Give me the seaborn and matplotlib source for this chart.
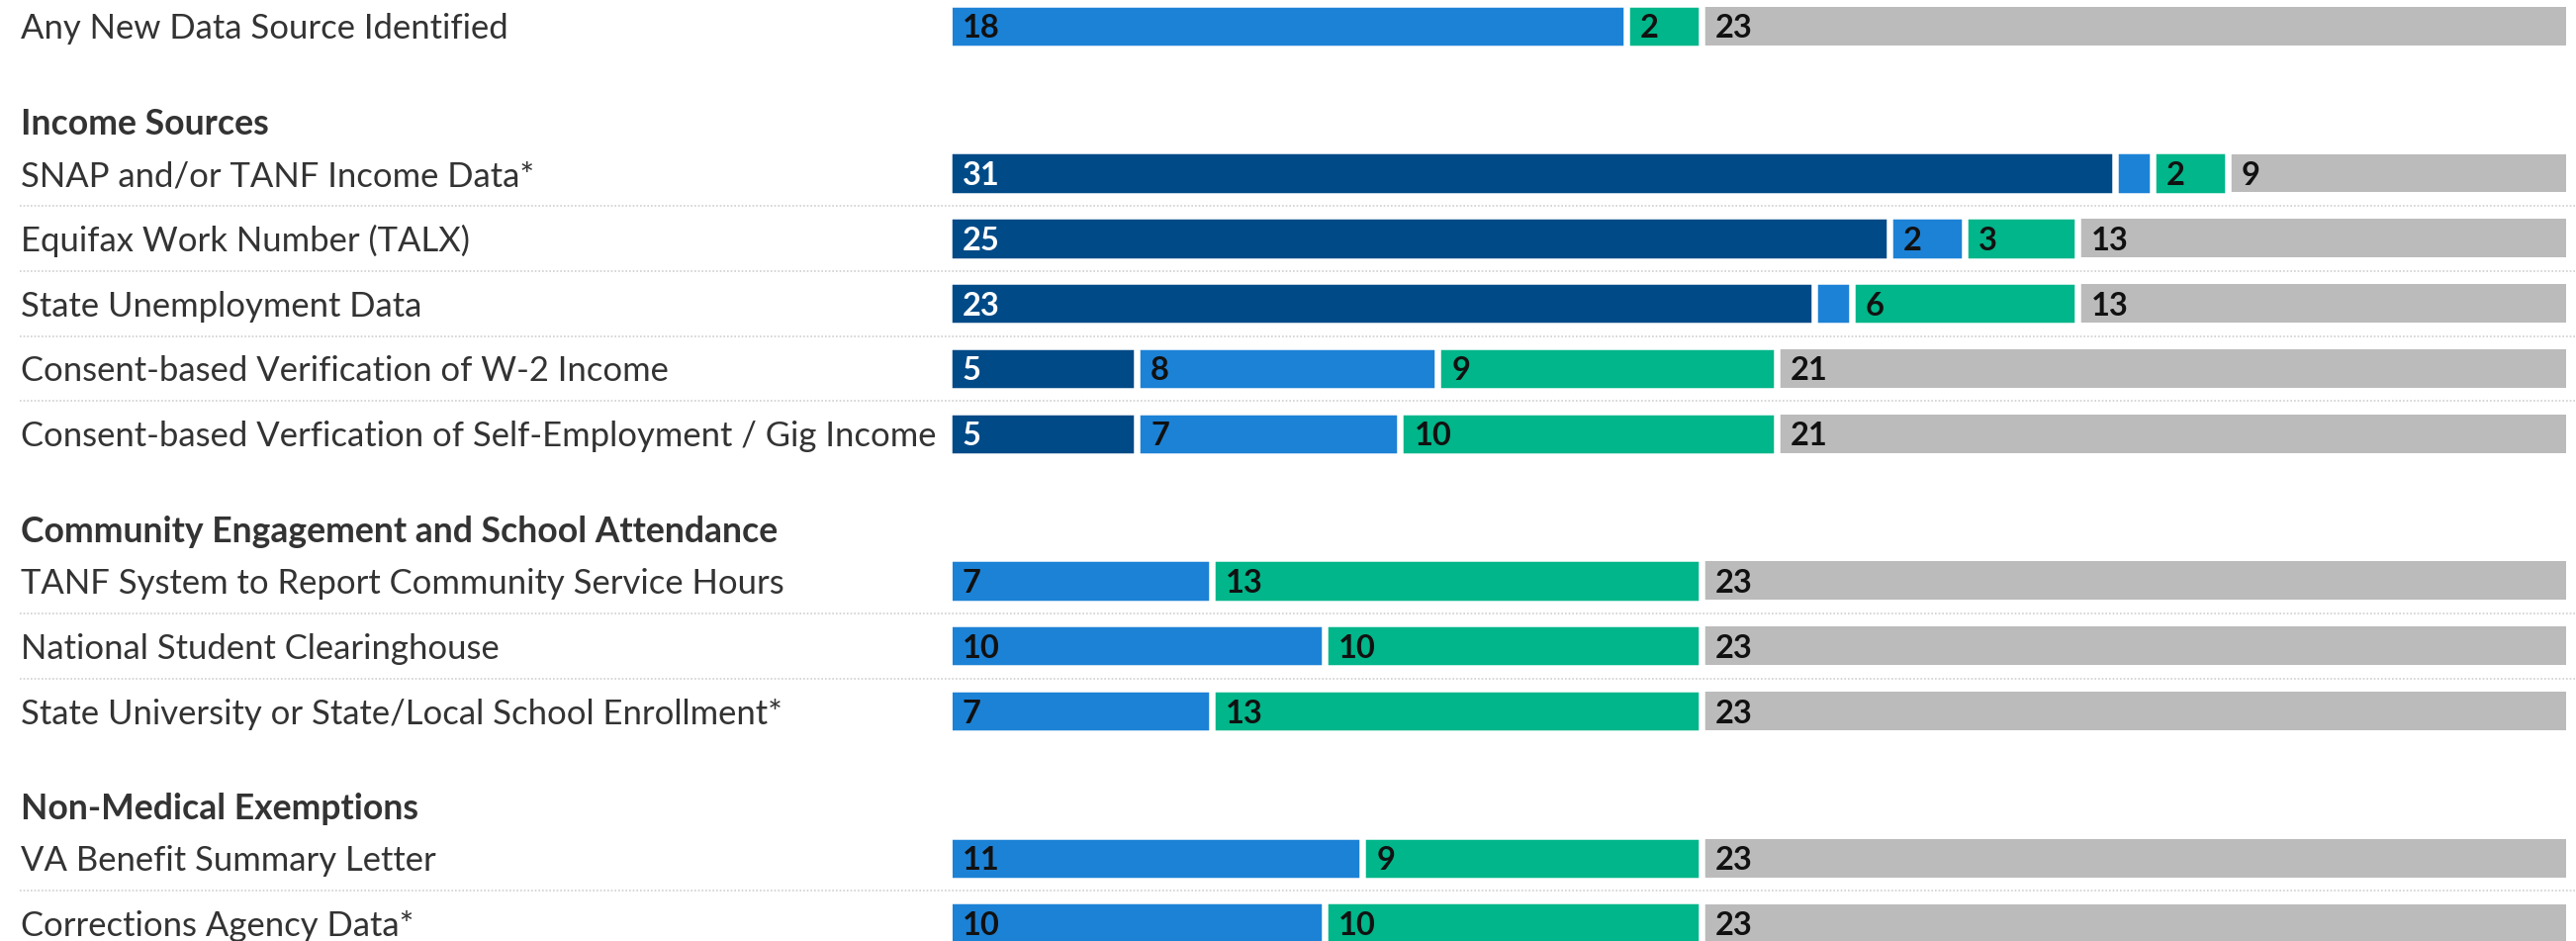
import numpy as np
import pandas as pd
import matplotlib
matplotlib.use("Agg")
import matplotlib.pyplot as plt
import matplotlib.transforms as mtransforms
import seaborn as sns

# Row labels, grouped (first group has no header)
group_titles = [None, "Income Sources", "Community Engagement and School Attendance",
                "Non-Medical Exemptions"]
group_rows = [
    ["Any New Data Source Identified"],
    ["SNAP and/or TANF Income Data*",
     "Equifax Work Number (TALX)",
     "State Unemployment Data",
     "Consent-based Verification of W-2 Income",
     "Consent-based Verfication of Self-Employment / Gig Income"],
    ["TANF System to Report Community Service Hours",
     "National Student Clearinghouse",
     "State University or State/Local School Enrollment*"],
    ["VA Benefit Summary Letter",
     "Corrections Agency Data*"],
]

# Segment counts per row, left to right in each bar
seg_dark = [0, 31, 25, 23, 5, 5, 0, 0, 0, 0, 0]
seg_blue = [18, 1, 2, 1, 8, 7, 7, 10, 7, 11, 10]
seg_green = [2, 2, 3, 6, 9, 10, 13, 10, 13, 9, 10]
seg_gray = [23, 9, 13, 13, 21, 21, 23, 23, 23, 23, 23]

series = ["dark", "blue", "green", "gray"]
colors = {"dark": "#004A87", "blue": "#1C82D6", "green": "#00B68A", "gray": "#BBBBBB"}
text_colors = {"dark": "white", "blue": "#111111", "green": "#111111", "gray": "#111111"}

# layout (in row units)
EXTRA_GAP = 1.26
HEADER_OFFSET = 0.8
ROW_PX = 65.8
BAR_H = 0.69
GAP_PX = 6.5

ypos, labels, header_y, sep_y = [], [], [], []
y_next = 0.0
for gi, rows in enumerate(group_rows):
    if gi > 0:
        y_next += EXTRA_GAP
        header_y.append(y_next - HEADER_OFFSET)
    for ri, lab in enumerate(rows):
        ypos.append(y_next)
        labels.append(lab)
        if ri < len(rows) - 1:
            sep_y.append(y_next + 0.5)
        y_next += 1

df = pd.DataFrame({"y": ypos, "label": labels, "dark": seg_dark, "blue": seg_blue,
                   "green": seg_green, "gray": seg_gray})
cum = df[series].cumsum(axis=1)
start = cum - df[series]
for s in series:
    df["cum_" + s] = cum[s]
total = int(cum["gray"].max())

sns.set_theme(style="white")
plt.rcParams["font.family"] = ["Lato", "DejaVu Sans"]

W, H = 2604, 951
fig = plt.figure(figsize=(W / 100, H / 100), dpi=100)
x0_px, unit_px = 959.0, 38.03
ax = fig.add_axes([x0_px / W, 0, total * unit_px / W, 1])

# stacked bars by layering cumulative totals, outermost first;
# the outer (gray) bar has no white edge so it reaches the full width
for s in reversed(series):
    if s == "gray":
        sns.barplot(data=df, x="cum_" + s, y="y", orient="y", native_scale=True,
                    width=BAR_H - GAP_PX / ROW_PX, color=colors[s], saturation=1,
                    errorbar=None, linewidth=0, ax=ax)
    else:
        sns.barplot(data=df, x="cum_" + s, y="y", orient="y", native_scale=True,
                    width=BAR_H, color=colors[s], saturation=1, errorbar=None,
                    edgecolor="white", linewidth=GAP_PX * 0.72, ax=ax)

ax.set_xlim(0, total)
ax.set_ylim((H - 26.3) / ROW_PX, -26.3 / ROW_PX)
ax.axis("off")

# value labels
lab_tr = mtransforms.offset_copy(ax.transData, fig=fig, x=14, y=0, units="dots")
for i, row in df.iterrows():
    for s in series:
        v = row[s]
        if v >= 2:
            ax.text(start.loc[i, s], row["y"], str(int(v)), transform=lab_tr,
                    ha="left", va="center_baseline", fontsize=23.5, fontweight="bold",
                    color=text_colors[s])

# row labels, headers and separators
txt_tr = mtransforms.blended_transform_factory(fig.transFigure, ax.transData)
for y, lab in zip(ypos, labels):
    ax.text(21 / W, y, lab, transform=txt_tr, ha="left", va="center_baseline",
            fontsize=24.9, color="#333333", clip_on=False)
for y, title in zip(header_y, group_titles[1:]):
    ax.text(21 / W, y, title, transform=txt_tr, ha="left", va="center_baseline",
            fontsize=25.6, fontweight="bold", color="#333333", clip_on=False)

ax.hlines(sep_y, 20 / W, 1, transform=txt_tr, colors="#CFCFCF",
          linestyles=(0, (1, 1.2)), linewidth=1.2, clip_on=False)

fig.savefig("out.png", dpi=100)
